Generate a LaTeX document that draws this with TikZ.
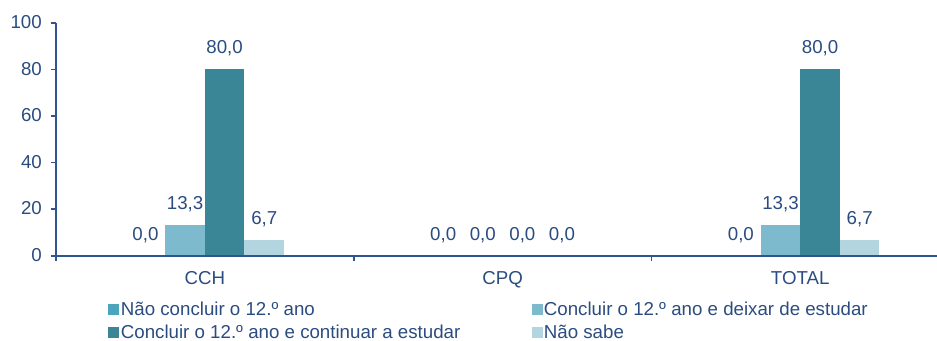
\documentclass[tikz,border=0pt]{standalone}
\usepackage{fontspec}
\setmainfont{Liberation Sans}
\definecolor{txt}{HTML}{2A4C80}
\definecolor{axc}{HTML}{2E5590}
\definecolor{sA}{HTML}{4BA5BC}
\definecolor{sB}{HTML}{7EBACE}
\definecolor{sC}{HTML}{3A8696}
\definecolor{sD}{HTML}{B3D5E0}
\newcommand\chbar[6]{%
  \pgfmathsetmacro\xl{#1+(#2-2)*39.6}%
  \pgfmathsetmacro\xr{\xl+39.6}%
  \pgfmathsetmacro\yt{255.7-2.33*#3}%
  \fill[#5] (\xl,255.7) rectangle (\xr,\yt);%
  \node[lbl,anchor=base] (#6) at ({\xl+19.8},{\yt-15.7}) {#4};%
}
\begin{document}
\begin{tikzpicture}[x=1pt,y=-1pt,
  lbl/.style={font=\fontsize{18.7}{22}\selectfont, text=txt, inner sep=0pt},
  ax/.style={draw=axc, line width=1.6pt}]
\useasboundingbox (0,0) rectangle (937,340);
% bars CCH
\chbar{204.85}{0}{0}{0,0}{sA}{a1}
\chbar{204.85}{1}{13.3}{13,3}{sB}{a2}
\chbar{204.85}{2}{80}{80,0}{sC}{a3}
\chbar{204.85}{3}{6.7}{6,7}{sD}{a4}
% bars CPQ
\chbar{502.55}{0}{0}{0,0}{sA}{b1}
\chbar{502.55}{1}{0}{0,0}{sB}{b2}
\chbar{502.55}{2}{0}{0,0}{sC}{b3}
\chbar{502.55}{3}{0}{0,0}{sD}{b4}
% bars TOTAL
\chbar{800.25}{0}{0}{0,0}{sA}{c1}
\chbar{800.25}{1}{13.3}{13,3}{sB}{c2}
\chbar{800.25}{2}{80}{80,0}{sC}{c3}
\chbar{800.25}{3}{6.7}{6,7}{sD}{c4}
% axes
\draw[ax] (56,22.7) -- (56,260.7);
\draw[ax] (56,255.7) -- (937,255.7);
\foreach \k/\t in {0/100,1/80,2/60,3/40,4/20,5/0}{
  \pgfmathsetmacro\yy{22.7+46.6*\k}
  \draw[ax] (51,\yy) -- (56,\yy);
  \node[lbl,anchor=base east] (y\k) at (42,\yy+5.8) {\t};
}
\foreach \xx in {353.7,651.4}{
  \draw[ax] (\xx,255.7) -- (\xx,260.7);
}
% category labels
\node[lbl,anchor=base] (cch) at (204.85,284.3) {CCH};
\node[lbl,anchor=base] (cpq) at (502.55,284.3) {CPQ};
\node[lbl,anchor=base] (tot) at (800.25,284.3) {TOTAL};
% legend
\fill[sA] (107.5,303.5) rectangle (118.5,314.5);
\node[lbl,anchor=base west] (l1) at (120.7,315) {Não concluir o 12.º ano};
\fill[sB] (531.5,303.5) rectangle (542.5,314.5);
\node[lbl,anchor=base west] (l2) at (543.7,315) {Concluir o 12.º ano e deixar de estudar};
\fill[sC] (107.5,326.8) rectangle (118.5,337.8);
\node[lbl,anchor=base west,text depth=0pt] (l3) at (120.7,338.3) {Concluir o 12.º ano e continuar a estudar};
\fill[sD] (531.5,326.8) rectangle (542.5,337.8);
\node[lbl,anchor=base west,text depth=0pt] (l4) at (543.7,338.3) {Não sabe};
\end{tikzpicture}
\end{document}
